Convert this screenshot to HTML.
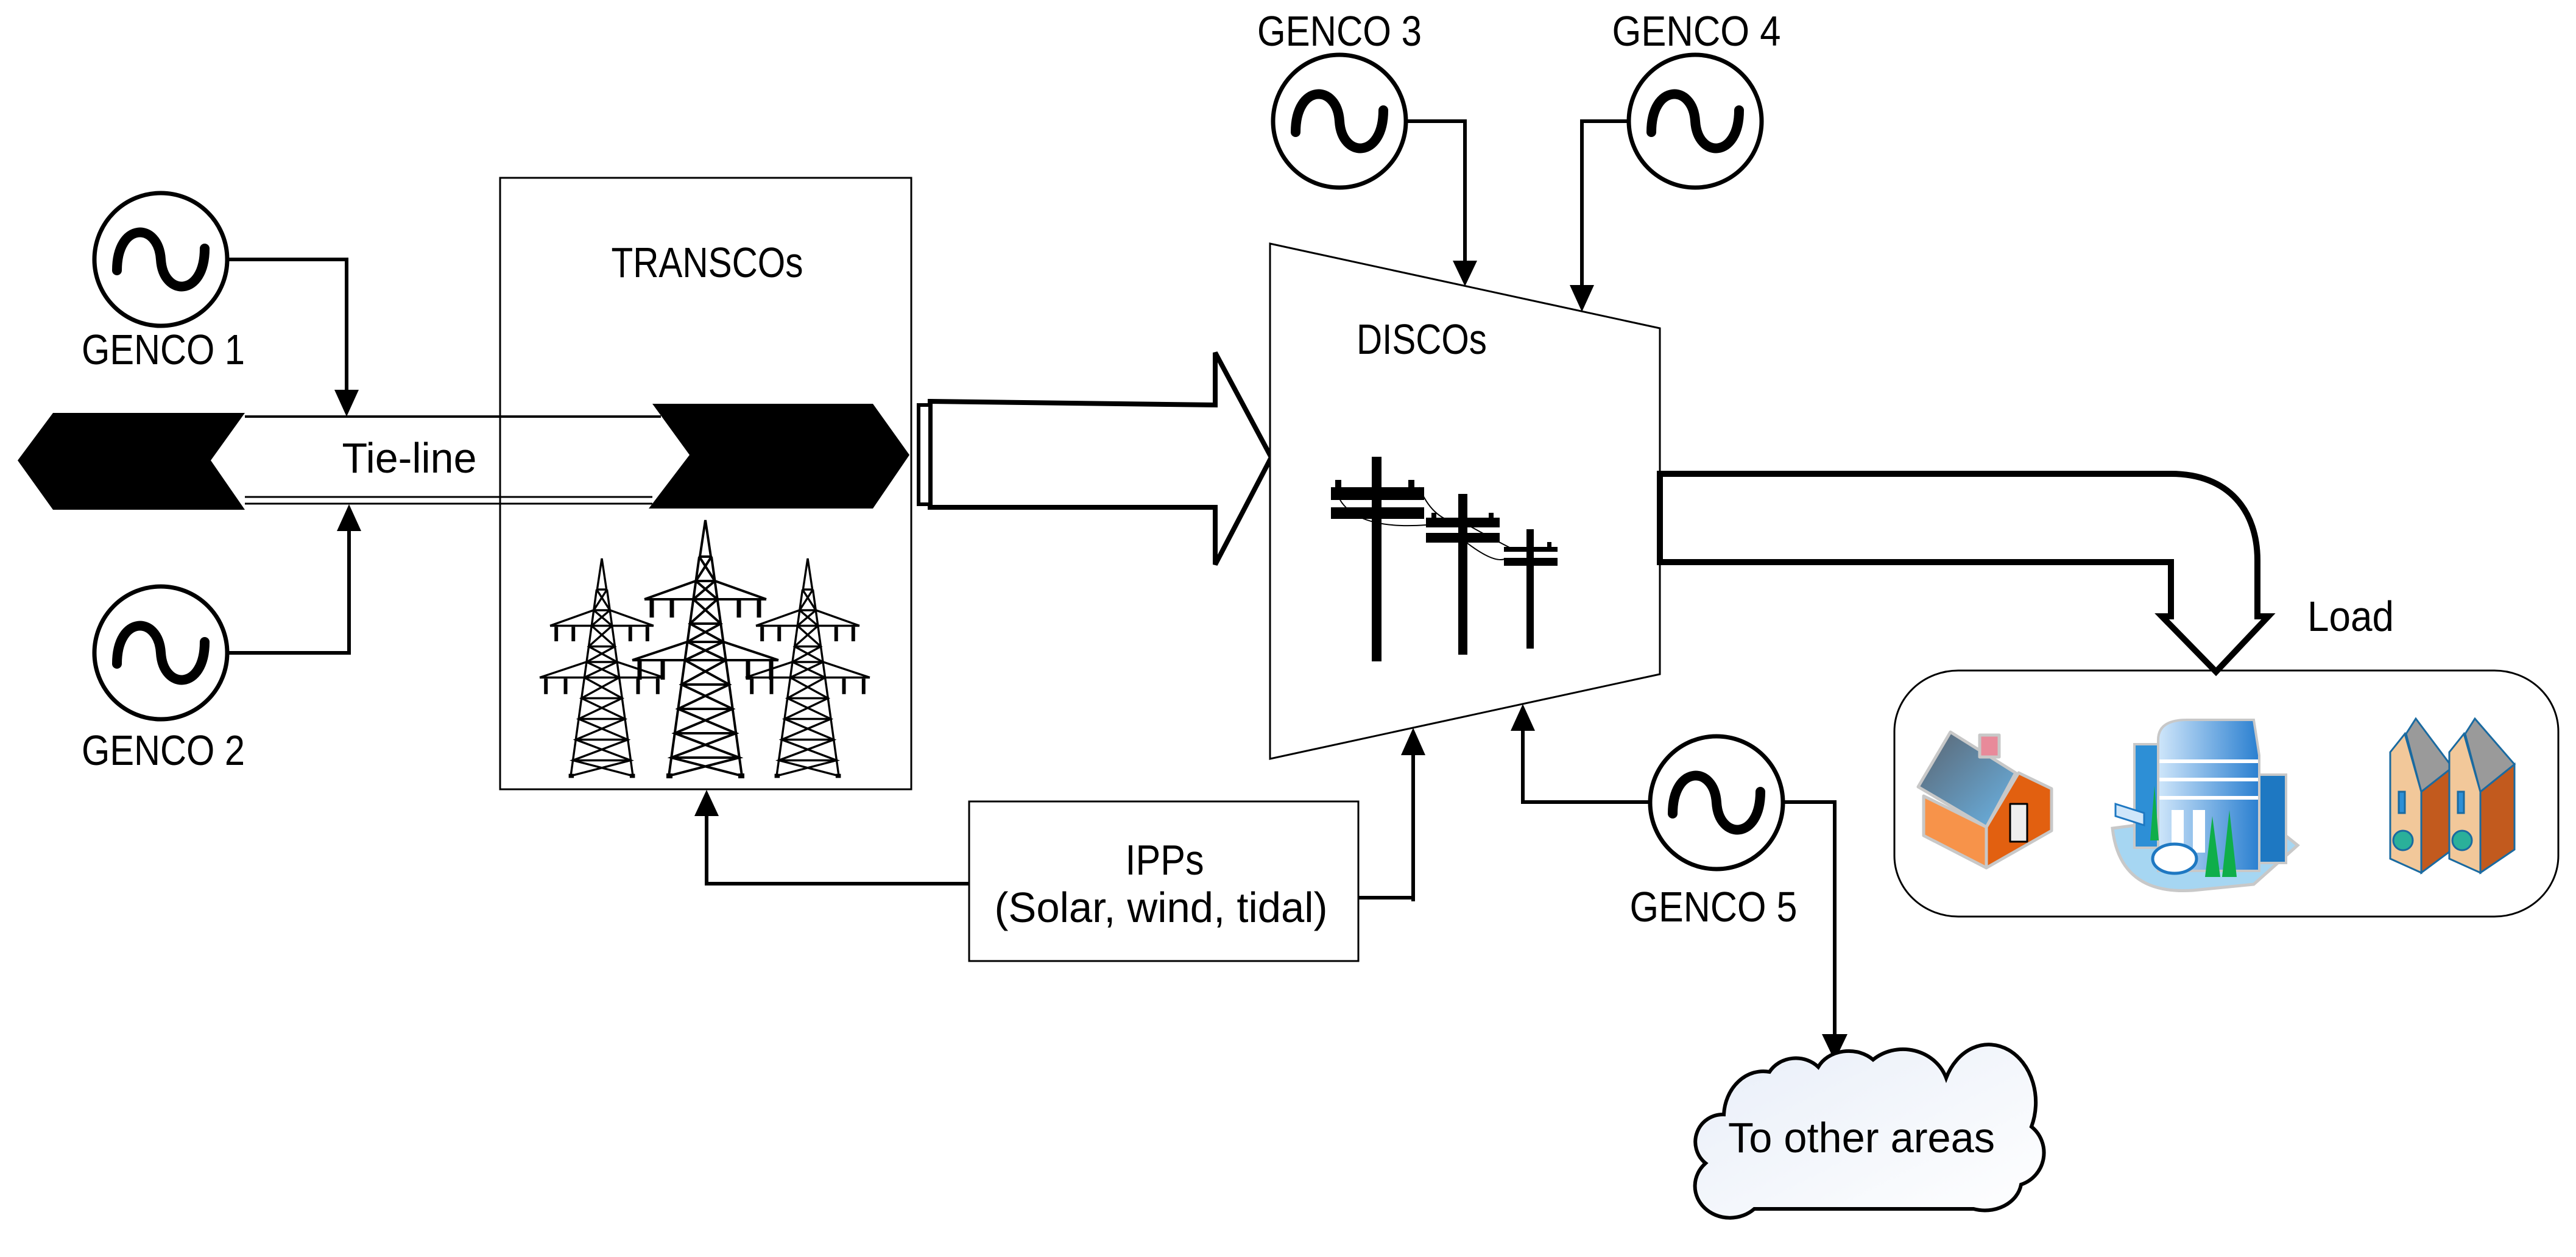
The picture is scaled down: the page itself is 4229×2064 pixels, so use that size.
<!DOCTYPE html>
<html><head><meta charset="utf-8"><style>html,body{margin:0;padding:0;background:#fff}svg{display:block}text{font-family:"Liberation Sans Narrow","Liberation Sans",sans-serif;font-size:70px;fill:#000}</style></head><body>
<svg xmlns="http://www.w3.org/2000/svg" width="4229" height="2064" viewBox="0 0 4229 2064">
<defs>
<g id="sine"><path d="M-72,18 C-72,-62 -4,-62 0,0 C4,62 72,62 72,-18" fill="none" stroke="#000" stroke-width="16" stroke-linecap="round"/></g>
<g id="tower" fill="none" stroke="#000" stroke-width="4">
<path d="M0,0 L-9,60 L9,60 Z"/>
<path d="M-10,60 L-60,420 M10,60 L60,420"/>
<path d="M-10,60 L15.6,100 L-19.7,130 L25.3,170 L-29.4,200 L33.6,230 L-39.2,270 L44.7,310 L-50.3,350 L55.8,390 L-60,420"/>
<path d="M10,60 L-15.6,100 L19.7,130 L-25.3,170 L29.4,200 L-33.6,230 L39.2,270 L-44.7,310 L50.3,350 L-55.8,390 L60,420"/>
<path d="M-15.6,100 H15.6 M-25.3,170 H25.3 M-29.4,200 H29.4 M-39.2,270 H39.2 M-44.7,310 H44.7 M-50.3,350 H50.3 M-55.8,390 H55.8"/>
<path d="M-100,130 L100,130 M-100,130 L-16,100 M100,130 L16,100"/>
<path d="M-120,230 L120,230 M-120,230 L-30,200 M120,230 L30,200"/>
<path d="M-88,132 V160 M-55,132 V160 M55,132 V160 M88,132 V160 M-108,232 V262 M-70,232 V262 M70,232 V262 M108,232 V262" stroke-width="7"/>
<path d="M-64,420 H-54 M54,420 H64" stroke-width="8"/>
</g>
<linearGradient id="cl" x1="0" y1="0" x2="1" y2="1"><stop offset="0" stop-color="#e8eef8"/><stop offset="1" stop-color="#ffffff"/></linearGradient>
<linearGradient id="roof" x1="0" y1="0" x2="1" y2="1"><stop offset="0" stop-color="#5a6470"/><stop offset="1" stop-color="#6ab4e6"/></linearGradient>
<linearGradient id="bld" x1="0" y1="0" x2="1" y2="0"><stop offset="0" stop-color="#cfe6fa"/><stop offset="1" stop-color="#2a7fd0"/></linearGradient>
</defs>

<circle cx="264" cy="426" r="109" fill="#fff" stroke="#000" stroke-width="7"/>
<use href="#sine" x="264" y="426"/>
<text x="268" y="598" text-anchor="middle" textLength="268" lengthAdjust="spacingAndGlyphs">GENCO 1</text>
<path d="M373,426 H569 V640" fill="none" stroke="#000" stroke-width="6"/>
<path d="M549,640 L589,640 L569,684 Z"/>
<circle cx="264" cy="1072" r="109" fill="#fff" stroke="#000" stroke-width="7"/>
<use href="#sine" x="264" y="1072"/>
<text x="268" y="1256" text-anchor="middle" textLength="268" lengthAdjust="spacingAndGlyphs">GENCO 2</text>
<path d="M373,1072 H573 V870" fill="none" stroke="#000" stroke-width="6"/>
<path d="M553,872 L593,872 L573,828 Z"/>

<rect x="821" y="292" width="675" height="1004" fill="none" stroke="#000" stroke-width="3"/>
<text x="1161" y="455" text-anchor="middle" textLength="315" lengthAdjust="spacingAndGlyphs">TRANSCOs</text>
<g transform="translate(1158,854)"><use href="#tower"/></g>
<g transform="translate(988,917) scale(0.85)"><use href="#tower"/></g>
<g transform="translate(1326,917) scale(0.85)"><use href="#tower"/></g>

<path d="M402,684 H1085" stroke="#000" stroke-width="4"/>
<path d="M402,816 H1071 M402,827 H1071" stroke="#000" stroke-width="3"/>
<polygon points="29,756 87,678 402,678 346,756 402,837 87,837" fill="#000"/>
<polygon points="1071,663 1433,663 1493,747 1433,835 1065,835 1132,747" fill="#000"/>
<text x="672" y="776" text-anchor="middle" textLength="221" lengthAdjust="spacingAndGlyphs">Tie-line</text>

<path d="M1527,659 L1995,665 L1995,579 L2087,751 L1995,927 L1995,833 L1527,833 Z" fill="#fff" stroke="#000" stroke-width="8" stroke-linejoin="miter"/>
<rect x="1508" y="665" width="19" height="163" fill="#fff" stroke="#000" stroke-width="6"/>

<text x="2199" y="75" text-anchor="middle" textLength="270" lengthAdjust="spacingAndGlyphs">GENCO 3</text>
<text x="2785" y="75" text-anchor="middle" textLength="277" lengthAdjust="spacingAndGlyphs">GENCO 4</text>
<circle cx="2199" cy="199" r="109" fill="#fff" stroke="#000" stroke-width="7"/>
<use href="#sine" x="2199" y="199"/>
<circle cx="2783" cy="199" r="109" fill="#fff" stroke="#000" stroke-width="7"/>
<use href="#sine" x="2783" y="199"/>
<path d="M2308,199 H2405 V430" fill="none" stroke="#000" stroke-width="6"/>
<path d="M2385,428 L2425,428 L2405,470 Z"/>
<path d="M2674,199 H2597 V470" fill="none" stroke="#000" stroke-width="6"/>
<path d="M2577,468 L2617,468 L2597,512 Z"/>

<polygon points="2085,400 2725,539 2725,1107 2085,1246" fill="#fff" stroke="#000" stroke-width="3"/>
<text x="2334" y="581" text-anchor="middle" textLength="214" lengthAdjust="spacingAndGlyphs">DISCOs</text>
<g fill="#000">
<rect x="2252" y="750" width="16" height="336"/>
<rect x="2185" y="800" width="153" height="21"/><rect x="2185" y="833" width="153" height="19"/>
<rect x="2192" y="788" width="10" height="14"/><rect x="2312" y="788" width="10" height="14"/>
<rect x="2394" y="811" width="15" height="264"/>
<rect x="2341" y="850" width="121" height="16"/><rect x="2341" y="875" width="121" height="16"/>
<rect x="2350" y="842" width="8" height="10"/><rect x="2444" y="842" width="8" height="10"/>
<rect x="2506" y="869" width="12" height="196"/>
<rect x="2469" y="898" width="88" height="8"/><rect x="2469" y="916" width="88" height="13"/>
<rect x="2540" y="890" width="7" height="9"/>
</g>
<path d="M2200,821 Q2230,870 2341,862 M2330,800 Q2350,850 2390,858 M2415,865 Q2460,890 2490,905 M2400,885 Q2450,925 2470,918" fill="none" stroke="#000" stroke-width="2"/>

<path d="M2725,778 L3564,778 C3660,778 3706,840 3706,920 L3706,1012 L3724,1012 L3638,1103 L3549,1012 L3564,1012 L3564,923 L2725,923 Z" fill="#fff" stroke="#000" stroke-width="10" stroke-linejoin="miter"/>
<text x="3859" y="1036" text-anchor="middle" textLength="142" lengthAdjust="spacingAndGlyphs">Load</text>

<rect x="3110" y="1101" width="1090" height="404" rx="105" ry="100" fill="none" stroke="#000" stroke-width="3"/>
<g stroke="#c8c8c8" stroke-width="5" stroke-linejoin="round">
<polygon points="3158,1307 3261,1358 3261,1425 3158,1372" fill="#f7934a"/>
<polygon points="3261,1358 3314,1269 3368,1295 3368,1364 3261,1425" fill="#e26010"/>
<polygon points="3149,1292 3202,1202 3309,1269 3261,1358" fill="url(#roof)"/>
<rect x="3250" y="1207" width="32" height="36" fill="#e88a9a"/>
<rect x="3300" y="1320" width="28" height="62" fill="#eeeeee" stroke="#000" stroke-width="3"/>
</g>
<g>
<path d="M3468,1360 Q3480,1470 3600,1462 L3700,1452 L3772,1388 L3700,1330 Z" fill="#a6d6f2" stroke="#c8c8c8" stroke-width="5"/>
<rect x="3504" y="1222" width="46" height="170" fill="#2d8fd6" stroke="#c8c8c8" stroke-width="4"/>
<rect x="3651" y="1272" width="102" height="145" fill="#1e78c2" stroke="#c8c8c8" stroke-width="4"/>
<path d="M3543,1215 Q3543,1182 3590,1182 L3700,1182 L3709,1240 L3709,1430 L3543,1430 Z" fill="url(#bld)" stroke="#c8c8c8" stroke-width="4"/>
<path d="M3545,1250 H3707 M3545,1280 H3707 M3545,1310 H3707" stroke="#fff" stroke-width="6"/>
<rect x="3565" y="1330" width="20" height="70" fill="#fff"/><rect x="3600" y="1330" width="20" height="70" fill="#fff"/>
<path d="M3620,1440 L3632,1340 L3645,1440 Z M3648,1440 L3660,1330 L3672,1440 Z M3530,1380 L3537,1290 L3544,1380 Z" fill="#0fae4a"/>
<ellipse cx="3570" cy="1410" rx="36" ry="24" fill="#fff" stroke="#1e78c2" stroke-width="5"/>
<path d="M3473,1320 L3520,1335 L3520,1355 L3473,1340 Z" fill="#cfe6fa" stroke="#1e78c2" stroke-width="3"/>
</g>
<g stroke="#1a6aa0" stroke-width="3">
<polygon points="3924,1235 3948,1205 3975,1300 3975,1433 3924,1410" fill="#f2c89a"/>
<polygon points="3975,1300 4026,1260 4026,1395 3975,1433" fill="#c25a1e"/>
<polygon points="3950,1205 3966,1180 4026,1260 3975,1300" fill="#9a9a9a"/>
<polygon points="4021,1235 4045,1205 4072,1300 4072,1433 4021,1410" fill="#f2c89a"/>
<polygon points="4072,1300 4128,1255 4128,1395 4072,1433" fill="#c25a1e"/>
<polygon points="4047,1205 4063,1180 4128,1255 4072,1300" fill="#9a9a9a"/>
<circle cx="3945" cy="1380" r="16" fill="#2ab09a"/><circle cx="4042" cy="1380" r="16" fill="#2ab09a"/>
<rect x="3938" y="1300" width="10" height="35" fill="#2d8fd6"/><rect x="4035" y="1300" width="10" height="35" fill="#2d8fd6"/>
</g>

<path d="M2320,1480 V1240" fill="none" stroke="#000" stroke-width="6"/>
<path d="M2300,1240 L2340,1240 L2320,1195 Z"/>
<path d="M2500,1317 V1200" fill="none" stroke="#000" stroke-width="6"/>
<path d="M2480,1200 L2520,1200 L2500,1156 Z"/>
<path d="M2710,1317 H2497" fill="none" stroke="#000" stroke-width="6"/>

<rect x="1591" y="1316" width="639" height="262" fill="#fff" stroke="#000" stroke-width="3"/>
<text x="1912" y="1436" text-anchor="middle" textLength="129" lengthAdjust="spacingAndGlyphs">IPPs</text>
<text x="1906" y="1514" text-anchor="middle" textLength="547" lengthAdjust="spacingAndGlyphs">(Solar, wind, tidal)</text>
<path d="M1591,1451 H1160 V1340" fill="none" stroke="#000" stroke-width="6"/>
<path d="M1140,1340 L1180,1340 L1160,1297 Z"/>
<path d="M2230,1474 H2320 V1480" fill="none" stroke="#000" stroke-width="6"/>

<circle cx="2818" cy="1318" r="109" fill="#fff" stroke="#000" stroke-width="7"/>
<use href="#sine" x="2818" y="1318"/>
<text x="2813" y="1513" text-anchor="middle" textLength="275" lengthAdjust="spacingAndGlyphs">GENCO 5</text>
<path d="M2927,1317 H3012 V1700" fill="none" stroke="#000" stroke-width="6"/>
<path d="M2991,1698 L3033,1698 L3012,1742 Z"/>

<path d="M2800,1910 A45,45 0 0 1 2830,1830 A65,75 0 0 1 2905,1760 A50,45 0 0 1 2985,1752 A55,45 0 0 1 3075,1740 A75,70 0 0 1 3195,1770 A65,80 0 0 1 3335,1850 A55,55 0 0 1 3318,1945 A60,50 0 0 1 3240,1985 L2880,1985 A55,50 0 0 1 2800,1910 Z" fill="url(#cl)" stroke="#000" stroke-width="6"/>
<text x="3056" y="1892" text-anchor="middle" textLength="438" lengthAdjust="spacingAndGlyphs">To other areas</text>
</svg>
</body></html>
